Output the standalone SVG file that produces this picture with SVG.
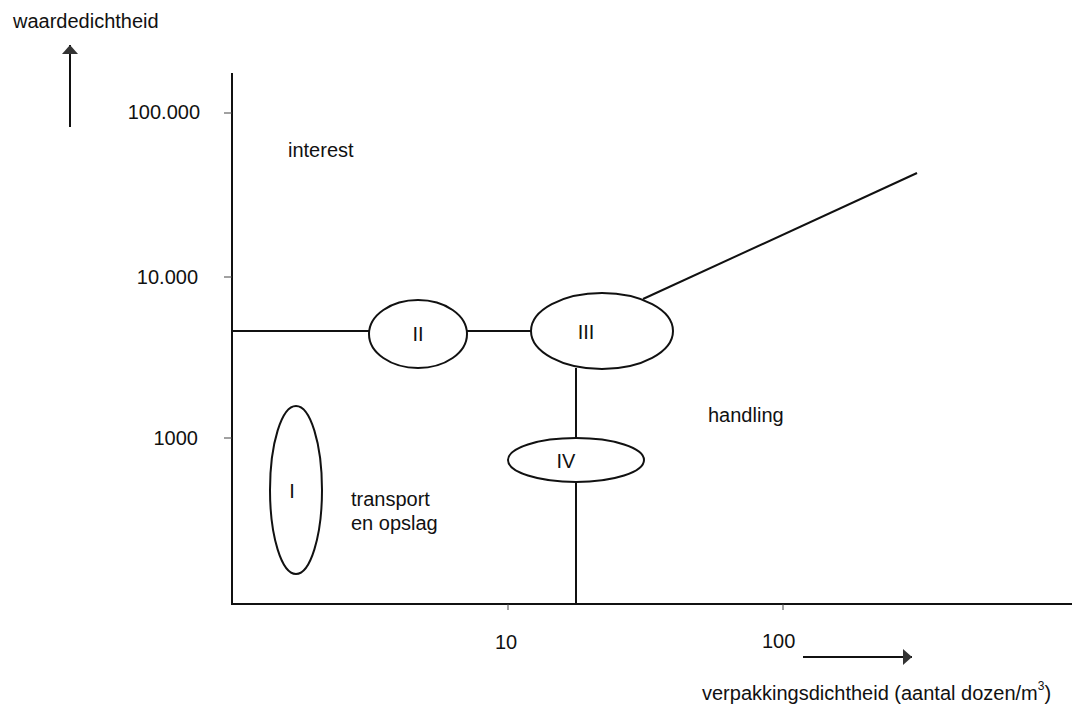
<svg xmlns="http://www.w3.org/2000/svg" width="1073" height="712" viewBox="0 0 1073 712">
  <style>
    text { font-family: "Liberation Sans", Arial, sans-serif; font-size: 20px; fill: #111; }
    .ln { stroke: #111; stroke-width: 2; fill: none; }
    .tk { stroke: #444; stroke-width: 1; fill: none; }
    .el { stroke: #111; stroke-width: 2; fill: #fff; }
    .lbl { text-anchor: middle; }
  </style>
  <defs>
    <marker id="arrow" viewBox="0 0 9 16" refX="9" refY="8" markerWidth="9" markerHeight="16" markerUnits="userSpaceOnUse" orient="auto">
      <path d="M0,0 L9,8 L0,16 z" fill="#333"/>
    </marker>
  </defs>

  <!-- axes and tick marks -->
  <g id="axes">
    <line class="ln" x1="232" y1="73" x2="232" y2="604"/>
    <line class="ln" x1="231" y1="604" x2="1072" y2="604"/>
    <line class="tk" x1="224" y1="113" x2="232" y2="113"/>
    <line class="tk" x1="224" y1="277" x2="232" y2="277"/>
    <line class="tk" x1="224" y1="438" x2="232" y2="438"/>
    <line class="tk" x1="508" y1="604" x2="508" y2="610"/>
    <line class="tk" x1="783" y1="604" x2="783" y2="610"/>
    <text x="200" y="119" text-anchor="end">100.000</text>
    <text x="198" y="284" text-anchor="end">10.000</text>
    <text x="198" y="445" text-anchor="end">1000</text>
    <text x="495" y="649">10</text>
    <text x="762" y="648">100</text>
  </g>

  <!-- axis titles with direction arrows -->
  <g id="y-title">
    <text x="13" y="28">waardedichtheid</text>
    <line class="ln" x1="70" y1="127" x2="70" y2="45" marker-end="url(#arrow)"/>
  </g>
  <g id="x-title">
    <line class="ln" x1="803" y1="657" x2="912" y2="657" marker-end="url(#arrow)"/>
    <text x="702" y="700">verpakkingsdichtheid (aantal dozen/m<tspan dy="-10" font-size="12">3</tspan><tspan dy="10">)</tspan></text>
  </g>

  <!-- connectors between the regions -->
  <g id="connectors">
    <line class="ln" x1="232" y1="331" x2="370" y2="331"/>
    <line class="ln" x1="467" y1="331" x2="532" y2="331"/>
    <line class="ln" x1="643" y1="299" x2="917" y2="173"/>
    <line class="ln" x1="576" y1="368" x2="576" y2="438"/>
    <line class="ln" x1="576" y1="482" x2="576" y2="604"/>
  </g>

  <!-- regions -->
  <g id="node-I">
    <ellipse class="el" cx="296" cy="490" rx="26" ry="84"/>
    <text class="lbl" x="292" y="498">I</text>
  </g>
  <g id="node-II">
    <ellipse class="el" cx="418" cy="334" rx="49" ry="34"/>
    <text class="lbl" x="418" y="341">II</text>
  </g>
  <g id="node-III">
    <ellipse class="el" cx="602" cy="331" rx="71" ry="38"/>
    <text class="lbl" x="586" y="339">III</text>
  </g>
  <g id="node-IV">
    <ellipse class="el" cx="576" cy="460" rx="68" ry="22"/>
    <text class="lbl" x="566" y="468">IV</text>
  </g>

  <!-- area labels -->
  <g id="area-labels">
    <text x="288" y="157">interest</text>
    <text x="708" y="422">handling</text>
    <text x="351" y="506">transport</text>
    <text x="351" y="530">en opslag</text>
  </g>
</svg>
